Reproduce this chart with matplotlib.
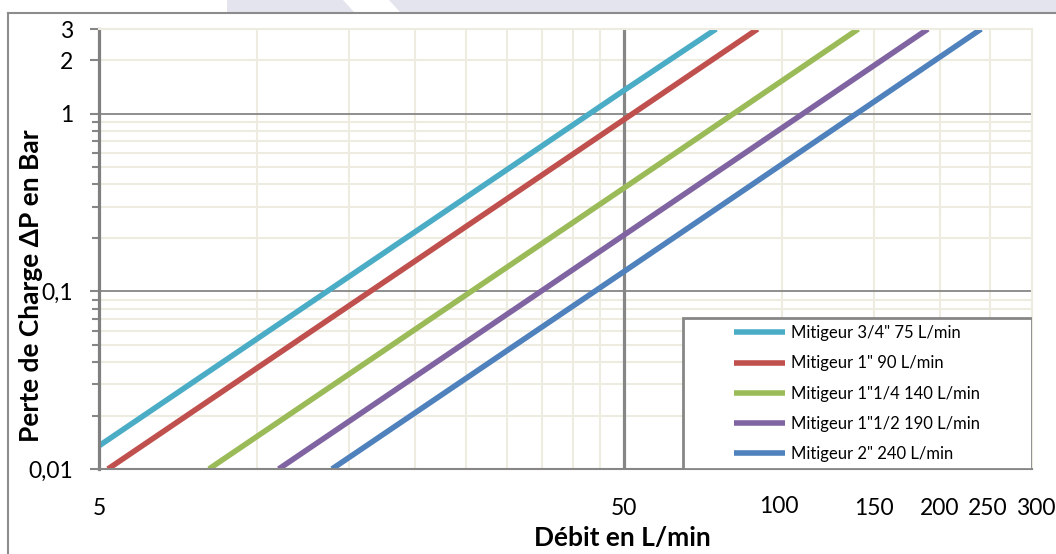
import numpy as np
import matplotlib
matplotlib.use("Agg")
import matplotlib.pyplot as plt
import matplotlib.transforms as mtransforms
from matplotlib.patches import Polygon, Rectangle
from matplotlib.lines import Line2D

plt.rcParams['font.family'] = ['Lato', 'DejaVu Sans']

# courbes de perte de charge
noms = ['Mitigeur 3/4" 75 L/min', 'Mitigeur 1" 90 L/min', 'Mitigeur 1"1/4 140 L/min',
        'Mitigeur 1"1/2 190 L/min', 'Mitigeur 2" 240 L/min']
couleurs = ['#4bacc6', '#c0504d', '#9bbb59', '#8064a2', '#4f81bd']
debit = [[5, 50, 75], [5.2, 50, 90], [8.1, 50, 140], [11.0, 50, 190], [13.9, 50, 240]]
perte = [[0.0135, 1.35, 3], [0.01, 0.925, 3], [0.01, 0.381, 3], [0.01, 0.207, 3], [0.01, 0.129, 3]]

x_ticks = [5, 50, 100, 150, 200, 250, 300]
x_labels = ['5', '50', '100', '150', '200', '250', '300']
y_ticks = [0.01, 0.1, 1, 2, 3]
y_labels = ['0,01', '0,1', '1', '2', '3']

W, H = 1056, 554
fig = plt.figure(figsize=(W / 100, H / 100), dpi=100)
ax = fig.add_axes([99 / W, 1 - 469 / H, (1032 - 99) / W, (469 - 29) / H])
ax.set_xscale('log')
ax.set_yscale('log')
ax.set_xlim(5, 300)
ax.set_ylim(0.01, 3)

clair = '#eeece1'
fonce = '#868686'

# grille facon Excel
x_min = [10, 15, 20, 25, 30, 35, 40, 45, 100, 150, 200, 250, 300]
y_min = [k * 10.0 ** e for e in (-2, -1) for k in range(2, 10)] + [2, 3]
for v in x_min:
    ax.axvline(v, color=clair, lw=1.5, zorder=0.5)
for v in y_min:
    ax.axhline(v, color=clair, lw=1.5, zorder=0.5)
for v in [0.1, 1]:
    ax.axhline(v, color=fonce, lw=1.3, zorder=0.8)
ax.axvline(50, color=fonce, lw=2.3, zorder=0.8)

for nom, c, q, p in zip(noms, couleurs, debit, perte):
    ax.plot(q, p, color=c, lw=4, solid_capstyle='butt', label=nom, zorder=2)

ax.set_xticks(x_ticks)
ax.set_xticklabels(x_labels)
ax.xaxis.set_minor_locator(matplotlib.ticker.NullLocator())
ax.set_yticks(y_ticks)
ax.set_yticklabels(y_labels)
ax.set_yticks([v for v in y_min if v not in y_ticks], minor=True)
ax.yaxis.set_minor_formatter(matplotlib.ticker.NullFormatter())
ax.tick_params(axis='x', length=0, pad=21, labelsize=16.5)
ax.tick_params(axis='y', which='major', length=6.5, width=1.5, color=fonce, pad=12, labelsize=16.5)
ax.tick_params(axis='y', which='minor', length=5, width=1.5, color=fonce)

# petits decalages des etiquettes comme dans l'original
decal = {'100': (-3, 2), '250': (-3, 0), '300': (4, 0)}
for lab in ax.get_xticklabels():
    if lab.get_text() in decal:
        dx, dy = decal[lab.get_text()]
        lab.set_transform(lab.get_transform() +
                          mtransforms.ScaledTranslation(dx / 100, dy / 100, fig.dpi_scale_trans))

ax.spines['left'].set_color('#808080')
ax.spines['left'].set_linewidth(2.3)
ax.spines['bottom'].set_color(fonce)
ax.spines['bottom'].set_linewidth(1.5)
for s in ('top', 'right'):
    ax.spines[s].set_color(clair)
    ax.spines[s].set_linewidth(1.5)

fig.text(31 / W, 1 - 286 / H, 'Perte de Charge ΔP en Bar', rotation=90,
         ha='center', va='center', fontsize=19, fontweight='bold')
fig.text(622 / W, 1 - 538 / H, 'Débit en L/min', ha='center', va='center',
         fontsize=19, fontweight='bold')

# cadre de la legende
x0 = (683 - 99) / 933
ax.add_patch(Rectangle((x0, 0), 1 - x0, (469 - 318) / 440, transform=ax.transAxes,
                       facecolor='white', edgecolor=fonce, lw=2, zorder=4))
leg = ax.legend(loc='center', bbox_to_anchor=((857 - 99) / 933, (469 - 393.5) / 440),
                frameon=False, fontsize=12, handlelength=3.1, handletextpad=0.36,
                labelspacing=0.85, borderpad=0)
for h in leg.get_lines():
    h.set_linewidth(4)
leg.set_zorder(5)

# cadre du graphique et bandeau en haut
fig.add_artist(Line2D([8 / W, 1], [1 - 13 / H, 1 - 13 / H], color='#8c8c8c', lw=1.5))
fig.add_artist(Line2D([8 / W, 8 / W], [0, 1 - 13 / H], color='#8c8c8c', lw=1.5))
lav = '#e4e4ee'
fig.add_artist(Polygon([(227 / W, 1), (343 / W, 1), (354 / W, 1 - 12 / H), (227 / W, 1 - 12 / H)],
                       closed=True, facecolor=lav, edgecolor='none'))
fig.add_artist(Polygon([(389 / W, 1), (1, 1), (1, 1 - 12 / H), (400 / W, 1 - 12 / H)],
                       closed=True, facecolor=lav, edgecolor='none'))

fig.savefig('out.png', dpi=100)
